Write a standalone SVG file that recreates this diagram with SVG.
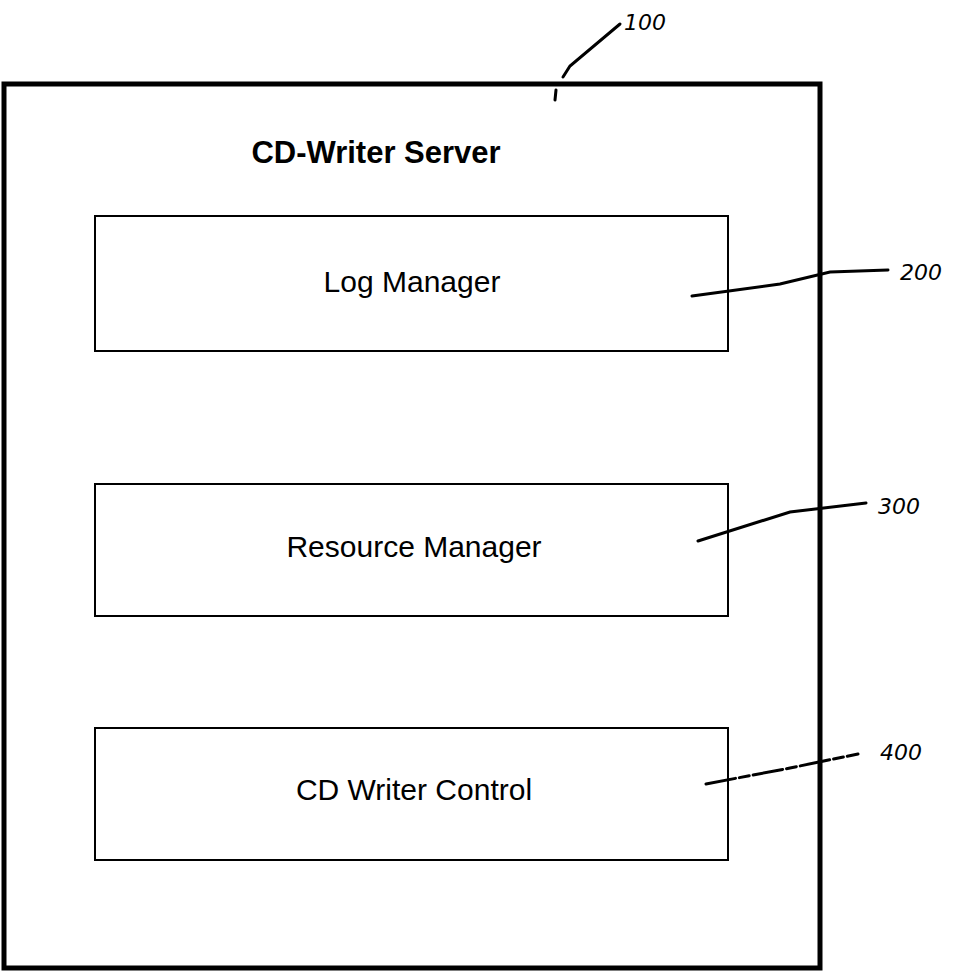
<svg xmlns="http://www.w3.org/2000/svg" width="976" height="973" viewBox="0 0 976 973">
<style>
.outer{fill:none;stroke:#000;stroke-width:5}
.box{fill:none;stroke:#000;stroke-width:2}
.lbl{font-family:"Liberation Sans",Arial,sans-serif;font-size:30px;text-anchor:middle;fill:#000}
.title{font-family:"Liberation Sans",Arial,sans-serif;font-size:31px;font-weight:bold;text-anchor:middle;fill:#000}
.lead{fill:none;stroke:#000;stroke-width:3;stroke-linecap:round}
.ref{font-family:"DejaVu Sans",sans-serif;font-size:22px;font-style:italic;fill:#000}
</style>
<rect width="976" height="973" fill="#fff"/>
<g id="server">
<rect class="outer" x="4" y="84" width="816" height="884"/>
<text class="title" x="376" y="163">CD-Writer Server</text>
</g>
<g id="log-manager">
<rect class="box" x="95" y="216" width="633" height="135"/>
<text class="lbl" x="412" y="292">Log Manager</text>
</g>
<g id="resource-manager">
<rect class="box" x="95" y="484" width="633" height="132"/>
<text class="lbl" x="414" y="557">Resource Manager</text>
</g>
<g id="cd-writer-control">
<rect class="box" x="95" y="728" width="633" height="132"/>
<text class="lbl" x="414" y="800">CD Writer Control</text>
</g>
<g id="connectors">
<path class="lead" d="M563,77 L570,66 L620,24"/>
<path class="lead" d="M556,90 L555,100"/>
<path class="lead" d="M692,296 L780,284 L830,272 L888,270"/>
<path class="lead" d="M698,541 L790,512 L866,503"/>
<path class="lead" d="M706,784 L790,768 L858,754" stroke-dasharray="30 4 10 4"/>
</g>
<g id="ref-labels">
<text class="ref" x="624" y="30">100</text>
<text class="ref" x="900" y="280">200</text>
<text class="ref" x="878" y="514">300</text>
<text class="ref" x="880" y="760">400</text>
</g>
</svg>
